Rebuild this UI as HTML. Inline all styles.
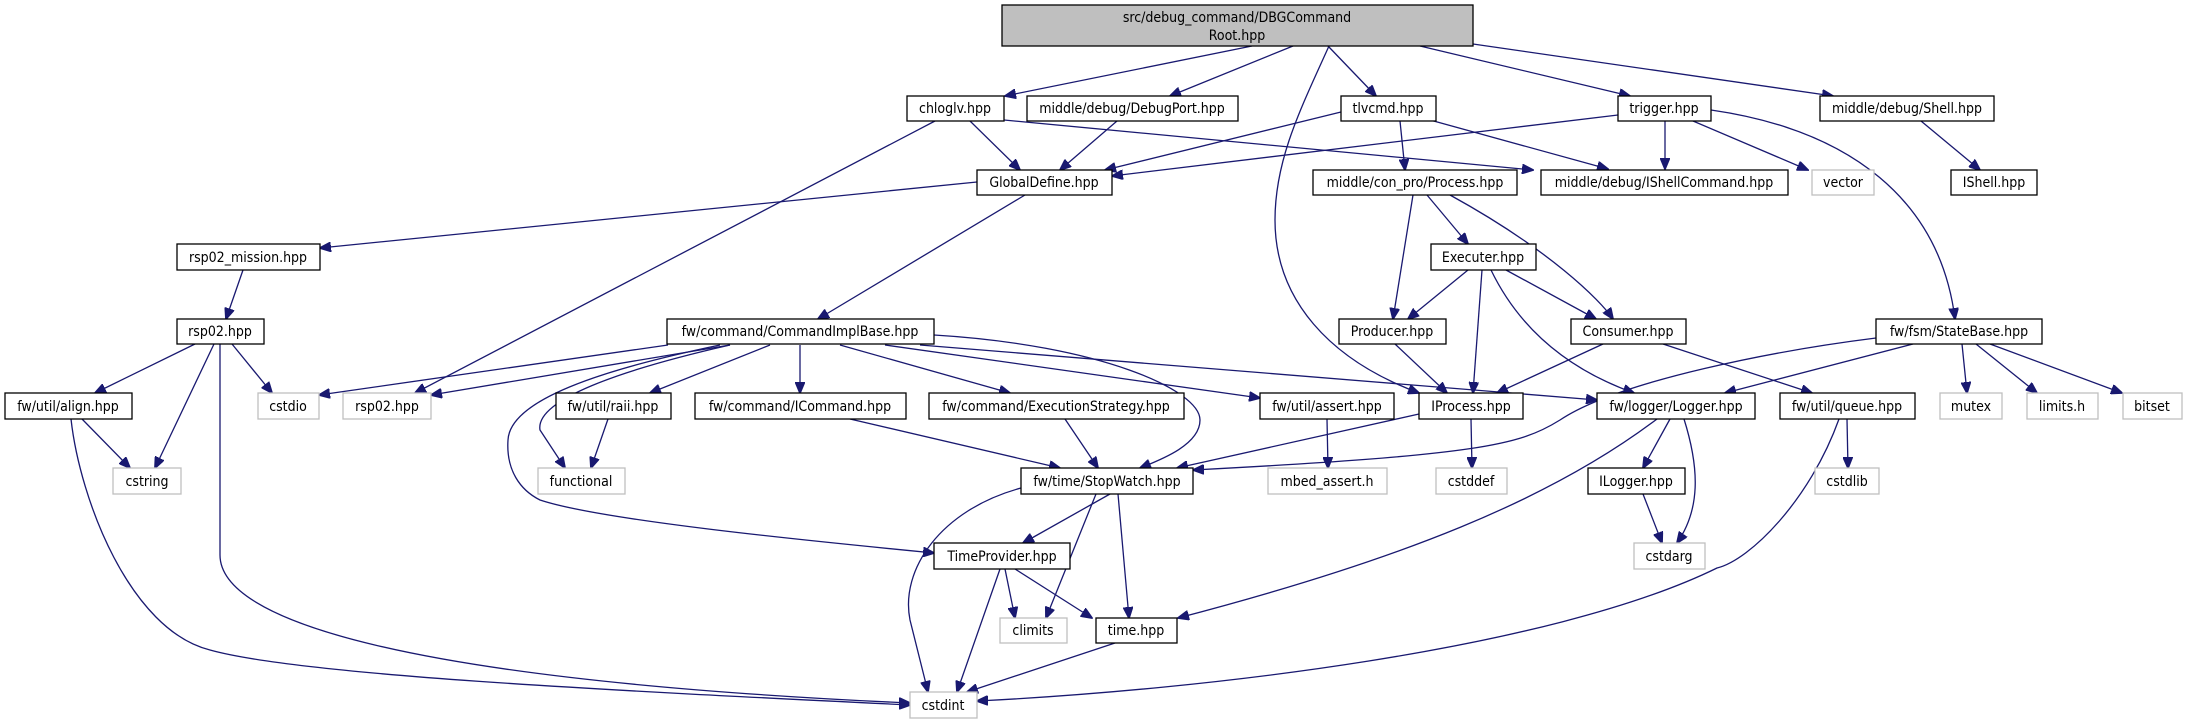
<!DOCTYPE html>
<html><head><meta charset="utf-8"><style>
html,body{margin:0;padding:0;background:#fff;}
svg{display:block}
text{font-family:"DejaVu Sans Condensed","DejaVu Sans","Liberation Sans",sans-serif;font-size:14px;fill:#000;text-anchor:middle;}
.n{fill:#fff;stroke:#000;stroke-width:1.3}
.g{fill:#fff;stroke:#bfbfbf;stroke-width:1.3}
.e{fill:none;stroke:#191970;stroke-width:1.3}
</style></head><body>
<svg width="2187" height="724" viewBox="0 0 2187 724" xmlns="http://www.w3.org/2000/svg">
<defs><marker id="a" markerWidth="12" markerHeight="10" refX="11" refY="5" orient="auto" markerUnits="userSpaceOnUse"><path d="M0,0 L12,5 L0,10 z" fill="#191970" stroke="#191970"/></marker></defs>
<g marker-end="url(#a)" class="e">
<path class="e" d="M1252,46 L1005,96"/>
<path class="e" d="M1293,46 L1170,96"/>
<path class="e" d="M1328,46 L1376,96"/>
<path class="e" d="M1420,46 L1630,96"/>
<path class="e" d="M1473,44 L1833,96"/>
<path class="e" d="M1329,46 C1300,110 1275,160 1275,220 C1275,300 1330,360 1419,393"/>
<path class="e" d="M970,121 L1020,170"/>
<path class="e" d="M935,121 L415,393"/>
<path class="e" d="M1004,120 L1533,170"/>
<path class="e" d="M1430,120 L1608,169"/>
<path class="e" d="M1665,121 L1665,169"/>
<path class="e" d="M1117,121 L1060,170"/>
<path class="e" d="M1341,112 L1105,170"/>
<path class="e" d="M1618,115 L1112,176"/>
<path class="e" d="M1400,121 L1405,170"/>
<path class="e" d="M1693,121 L1808,170"/>
<path class="e" d="M1711,110 C1850,130 1940,200 1955,319"/>
<path class="e" d="M1921,121 L1980,170"/>
<path class="e" d="M977,182 L320,248"/>
<path class="e" d="M1025,195 L818,319"/>
<path class="e" d="M1427,195 L1468,244"/>
<path class="e" d="M1413,195 L1393,319"/>
<path class="e" d="M1450,195 C1550,250 1600,300 1613,319"/>
<path class="e" d="M1468,270 L1408,319"/>
<path class="e" d="M1482,270 L1473,393"/>
<path class="e" d="M1506,270 L1596,319"/>
<path class="e" d="M1491,270 C1520,330 1570,370 1634,393"/>
<path class="e" d="M243,270 L226,319"/>
<path class="e" d="M195,344 L95,393"/>
<path class="e" d="M214,344 L155,468"/>
<path class="e" d="M220,344 L220,555 C220,620 400,680 910,703"/>
<path class="e" d="M232,344 L272,393"/>
<path class="e" d="M82,419 L130,468"/>
<path class="e" d="M71,419 C80,500 130,630 210,650 C300,675 600,690 910,705"/>
<path class="e" d="M668,345 L319,395"/>
<path class="e" d="M730,345 L431,395"/>
<path class="e" d="M770,345 L650,393"/>
<path class="e" d="M800,345 L800,393"/>
<path class="e" d="M840,345 L1010,393"/>
<path class="e" d="M885,345 L1260,398"/>
<path class="e" d="M920,345 L1597,400"/>
<path class="e" d="M934,335 C1100,345 1200,390 1200,420 C1200,445 1160,460 1140,468"/>
<path class="e" d="M720,345 C600,370 510,400 508,440 C506,470 520,490 540,500 C600,520 800,540 934,553"/>
<path class="e" d="M730,345 C620,370 535,400 540,430 L565,468"/>
<path class="e" d="M608,419 L591,468"/>
<path class="e" d="M850,419 L1060,468"/>
<path class="e" d="M1065,419 L1098,468"/>
<path class="e" d="M1327,419 L1328,468"/>
<path class="e" d="M1419,414 L1177,468"/>
<path class="e" d="M1471,419 L1472,468"/>
<path class="e" d="M1876,338 C1780,350 1620,380 1560,420 C1520,445 1480,455 1193,470"/>
<path class="e" d="M1913,344 L1725,393"/>
<path class="e" d="M1962,344 L1967,393"/>
<path class="e" d="M1976,344 L2037,393"/>
<path class="e" d="M1990,344 L2122,393"/>
<path class="e" d="M1395,344 L1447,393"/>
<path class="e" d="M1603,344 L1497,393"/>
<path class="e" d="M1663,344 L1812,393"/>
<path class="e" d="M1670,419 L1643,468"/>
<path class="e" d="M1684,419 C1700,470 1700,510 1677,543"/>
<path class="e" d="M1657,419 C1550,500 1400,560 1178,618"/>
<path class="e" d="M1839,419 C1810,500 1750,560 1717,568 C1550,650 1200,690 977,701"/>
<path class="e" d="M1847,419 L1848,468"/>
<path class="e" d="M1643,494 L1662,543"/>
<path class="e" d="M1110,494 L1023,543"/>
<path class="e" d="M1096,494 L1046,618"/>
<path class="e" d="M1118,494 L1129,618"/>
<path class="e" d="M1021,488 C940,510 900,570 910,620 L928,692"/>
<path class="e" d="M1005,569 L1015,618"/>
<path class="e" d="M1015,569 L1092,618"/>
<path class="e" d="M1000,569 L957,692"/>
<path class="e" d="M1115,643 L967,692"/>
</g>
<rect x="1002" y="5" width="471" height="41" style="fill:#bfbfbf;stroke:#000;stroke-width:1.3"/>
<text x="1237" y="22">src/debug_command/DBGCommand</text><text x="1237" y="40">Root.hpp</text>
<g>
<rect class="n" x="907" y="96" width="97" height="25"/><text x="955" y="113">chloglv.hpp</text>
<rect class="n" x="1027" y="96" width="211" height="25"/><text x="1132" y="113">middle/debug/DebugPort.hpp</text>
<rect class="n" x="1341" y="96" width="95" height="25"/><text x="1388" y="113">tlvcmd.hpp</text>
<rect class="n" x="1618" y="96" width="93" height="25"/><text x="1664" y="113">trigger.hpp</text>
<rect class="n" x="1820" y="96" width="174" height="25"/><text x="1907" y="113">middle/debug/Shell.hpp</text>
<rect class="n" x="977" y="170" width="135" height="25"/><text x="1044" y="187">GlobalDefine.hpp</text>
<rect class="n" x="1313" y="170" width="204" height="25"/><text x="1415" y="187">middle/con_pro/Process.hpp</text>
<rect class="n" x="1541" y="170" width="247" height="25"/><text x="1664" y="187">middle/debug/IShellCommand.hpp</text>
<rect class="g" x="1812" y="170" width="62" height="25"/><text x="1843" y="187">vector</text>
<rect class="n" x="1951" y="170" width="86" height="25"/><text x="1994" y="187">IShell.hpp</text>
<rect class="n" x="177" y="244" width="143" height="26"/><text x="248" y="262">rsp02_mission.hpp</text>
<rect class="n" x="1431" y="244" width="105" height="26"/><text x="1483" y="262">Executer.hpp</text>
<rect class="n" x="177" y="319" width="87" height="25"/><text x="220" y="336">rsp02.hpp</text>
<rect class="n" x="667" y="319" width="267" height="25"/><text x="800" y="336">fw/command/CommandImplBase.hpp</text>
<rect class="n" x="1339" y="319" width="107" height="25"/><text x="1392" y="336">Producer.hpp</text>
<rect class="n" x="1571" y="319" width="115" height="25"/><text x="1628" y="336">Consumer.hpp</text>
<rect class="n" x="1876" y="319" width="166" height="25"/><text x="1959" y="336">fw/fsm/StateBase.hpp</text>
<rect class="n" x="5" y="393" width="127" height="26"/><text x="68" y="411">fw/util/align.hpp</text>
<rect class="g" x="258" y="393" width="61" height="26"/><text x="288" y="411">cstdio</text>
<rect class="g" x="343" y="393" width="88" height="26"/><text x="387" y="411">rsp02.hpp</text>
<rect class="n" x="556" y="393" width="115" height="26"/><text x="613" y="411">fw/util/raii.hpp</text>
<rect class="n" x="695" y="393" width="211" height="26"/><text x="800" y="411">fw/command/ICommand.hpp</text>
<rect class="n" x="929" y="393" width="255" height="26"/><text x="1056" y="411">fw/command/ExecutionStrategy.hpp</text>
<rect class="n" x="1260" y="393" width="134" height="26"/><text x="1327" y="411">fw/util/assert.hpp</text>
<rect class="n" x="1419" y="393" width="104" height="26"/><text x="1471" y="411">IProcess.hpp</text>
<rect class="n" x="1597" y="393" width="158" height="26"/><text x="1676" y="411">fw/logger/Logger.hpp</text>
<rect class="n" x="1780" y="393" width="135" height="26"/><text x="1847" y="411">fw/util/queue.hpp</text>
<rect class="g" x="1940" y="393" width="62" height="26"/><text x="1971" y="411">mutex</text>
<rect class="g" x="2027" y="393" width="71" height="26"/><text x="2062" y="411">limits.h</text>
<rect class="g" x="2123" y="393" width="59" height="26"/><text x="2152" y="411">bitset</text>
<rect class="g" x="113" y="468" width="68" height="26"/><text x="147" y="486">cstring</text>
<rect class="g" x="538" y="468" width="87" height="26"/><text x="581" y="486">functional</text>
<rect class="n" x="1021" y="468" width="172" height="26"/><text x="1107" y="486">fw/time/StopWatch.hpp</text>
<rect class="g" x="1268" y="468" width="119" height="26"/><text x="1327" y="486">mbed_assert.h</text>
<rect class="g" x="1436" y="468" width="71" height="26"/><text x="1471" y="486">cstddef</text>
<rect class="n" x="1588" y="468" width="97" height="26"/><text x="1636" y="486">ILogger.hpp</text>
<rect class="g" x="1815" y="468" width="64" height="26"/><text x="1847" y="486">cstdlib</text>
<rect class="n" x="934" y="543" width="136" height="26"/><text x="1002" y="561">TimeProvider.hpp</text>
<rect class="g" x="1634" y="543" width="71" height="26"/><text x="1669" y="561">cstdarg</text>
<rect class="g" x="1000" y="618" width="67" height="25"/><text x="1033" y="635">climits</text>
<rect class="n" x="1096" y="618" width="81" height="25"/><text x="1136" y="635">time.hpp</text>
<rect class="g" x="910" y="692" width="67" height="26"/><text x="943" y="710">cstdint</text>
</g>
</svg>
</body></html>
